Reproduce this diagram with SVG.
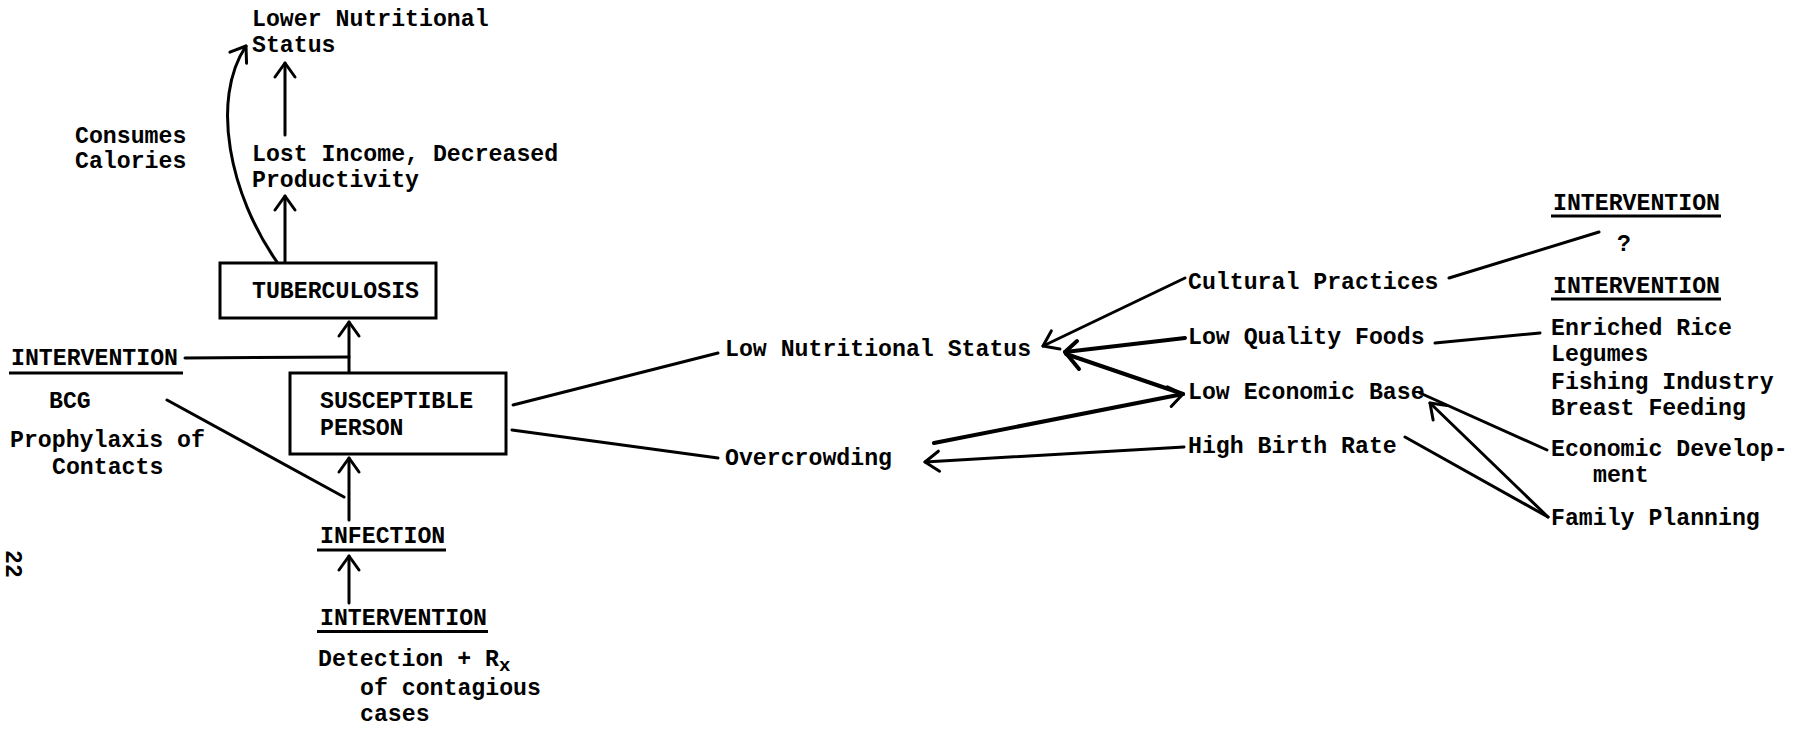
<svg xmlns="http://www.w3.org/2000/svg" width="1801" height="729" viewBox="0 0 1801 729">
<style>
.t{font-family:"Liberation Mono","Courier New",monospace;font-weight:bold;font-size:23.2px;fill:#000}
.ln{stroke:#000;stroke-width:3;fill:none;stroke-linecap:round;stroke-linejoin:round}
.hv{stroke-width:4}
.box{fill:#fff;stroke:#000;stroke-width:3}
.ul{stroke:#000;stroke-width:3}
</style>
<defs>
<marker id="ah" markerUnits="userSpaceOnUse" markerWidth="30" markerHeight="30" viewBox="-20 -15 30 30" refX="0" refY="0" orient="auto" overflow="visible">
<path d="M-14,-10 L0,0 L-14,10" fill="none" stroke="#000" stroke-width="3" stroke-linecap="round" stroke-linejoin="round"/>
</marker>
</defs>
<rect width="1801" height="729" fill="#fff"/>

<g id="connectors">
<path class="ln" d="M277,262 C230,195 210,100 246,46" marker-end="url(#ah)"/>
<line class="ln" x1="285" y1="135" x2="285" y2="63" marker-end="url(#ah)"/>
<line class="ln" x1="285" y1="262" x2="285" y2="196" marker-end="url(#ah)"/>
<line class="ln" x1="349" y1="373" x2="349" y2="322" marker-end="url(#ah)"/>
<line class="ln" x1="185" y1="358" x2="349" y2="357"/>
<line class="ln" x1="349" y1="520" x2="349" y2="458" marker-end="url(#ah)"/>
<line class="ln" x1="167" y1="400" x2="344" y2="497"/>
<line class="ln" x1="349" y1="603" x2="349" y2="556" marker-end="url(#ah)"/>
<line class="ln" x1="513" y1="405" x2="718" y2="353"/>
<line class="ln" x1="512" y1="430" x2="718" y2="458"/>
<line class="ln" x1="1185" y1="278" x2="1043" y2="346" marker-end="url(#ah)"/>
<line class="ln hv" x1="1185" y1="338" x2="1065" y2="352"/>
<line class="ln hv" x1="1183" y1="394" x2="1066" y2="354"/>
<path class="ln hv" d="M1077,341 L1065,352 L1079,369"/>
<line class="ln hv" x1="934" y1="443" x2="1183" y2="394" marker-end="url(#ah)"/>
<line class="ln" x1="1184" y1="447" x2="925" y2="462" marker-end="url(#ah)"/>
<line class="ln" x1="1449" y1="278" x2="1599" y2="232"/>
<line class="ln" x1="1435" y1="343" x2="1540" y2="333"/>
<line class="ln" x1="1420" y1="393" x2="1547" y2="450"/>
<line class="ln" x1="1548" y1="517" x2="1430" y2="403" marker-end="url(#ah)"/>
<line class="ln" x1="1405" y1="437" x2="1548" y2="517"/>
</g>

<g id="lower-nutritional-status">
<text class="t" x="252" y="26">Lower Nutritional</text>
<text class="t" x="252" y="52">Status</text>
</g>
<g id="consumes-calories">
<text class="t" x="75" y="143">Consumes</text>
<text class="t" x="75" y="168">Calories</text>
</g>
<g id="lost-income">
<text class="t" x="252" y="161">Lost Income, Decreased</text>
<text class="t" x="252" y="187">Productivity</text>
</g>
<g id="tuberculosis">
<rect class="box" x="220" y="263" width="216" height="55"/>
<text class="t" x="252" y="298">TUBERCULOSIS</text>
</g>
<g id="intervention-bcg">
<text class="t" x="11" y="365">INTERVENTION</text>
<line class="ul" x1="9" y1="373" x2="183" y2="373"/>
<text class="t" x="49" y="408">BCG</text>
<text class="t" x="10" y="447">Prophylaxis of</text>
<text class="t" x="52" y="474">Contacts</text>
</g>
<g id="susceptible-person">
<rect class="box" x="290" y="373" width="216" height="81"/>
<text class="t" x="320" y="408">SUSCEPTIBLE</text>
<text class="t" x="320" y="435">PERSON</text>
</g>
<g id="infection">
<text class="t" x="320" y="543">INFECTION</text>
<line class="ul" x1="317" y1="550" x2="446" y2="550"/>
</g>
<g id="intervention-detection">
<text class="t" x="320" y="625">INTERVENTION</text>
<line class="ul" x1="317" y1="631.5" x2="488" y2="631.5"/>
<text class="t" x="318" y="666">Detection + R<tspan dy="5" font-size="19">x</tspan></text>
<text class="t" x="360" y="695">of contagious</text>
<text class="t" x="360" y="721">cases</text>
</g>
<g id="low-nutritional-status">
<text class="t" x="725" y="356">Low Nutritional Status</text>
</g>
<g id="overcrowding">
<text class="t" x="725" y="465">Overcrowding</text>
</g>
<g id="cultural-practices">
<text class="t" x="1188" y="289">Cultural Practices</text>
</g>
<g id="low-quality-foods">
<text class="t" x="1188" y="344">Low Quality Foods</text>
</g>
<g id="low-economic-base">
<text class="t" x="1188" y="399">Low Economic Base</text>
</g>
<g id="high-birth-rate">
<text class="t" x="1188" y="453">High Birth Rate</text>
</g>
<g id="intervention-unknown">
<text class="t" x="1553" y="210">INTERVENTION</text>
<line class="ul" x1="1551" y1="216" x2="1721" y2="216"/>
<text class="t" x="1617" y="251">?</text>
</g>
<g id="intervention-foods">
<text class="t" x="1553" y="293">INTERVENTION</text>
<line class="ul" x1="1551" y1="299" x2="1721" y2="299"/>
<text class="t" x="1551" y="335">Enriched Rice</text>
<text class="t" x="1551" y="361">Legumes</text>
<text class="t" x="1551" y="389">Fishing Industry</text>
<text class="t" x="1551" y="415">Breast Feeding</text>
</g>
<g id="economic-development">
<text class="t" x="1551" y="456">Economic Develop-</text>
<text class="t" x="1593" y="482">ment</text>
</g>
<g id="family-planning">
<text class="t" x="1551" y="525">Family Planning</text>
</g>
<g id="page-number">
<text class="t" font-size="18" transform="translate(6,550) rotate(90)">22</text>
</g>
</svg>
